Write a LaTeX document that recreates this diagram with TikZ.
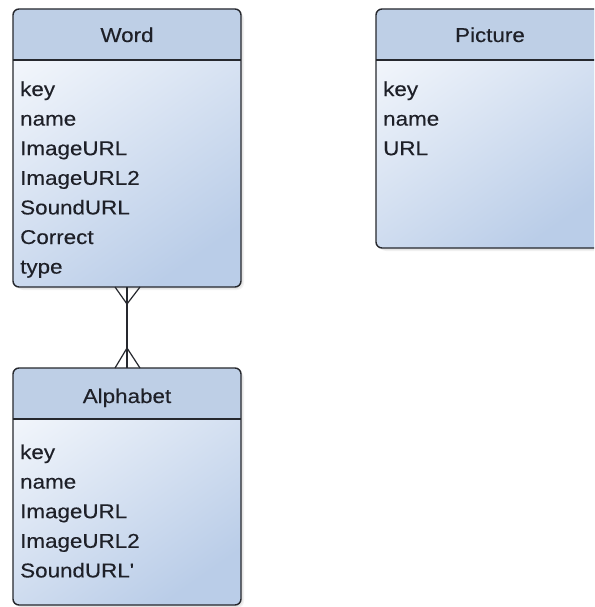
\documentclass[tikz,border=0pt]{standalone}
\usepackage{fontspec}
\setmainfont{Liberation Sans}[FakeStretch=1.12,FakeBold=0.25]
\usetikzlibrary{calc}
\definecolor{headfill}{RGB}{190,207,230}
\definecolor{bodylight}{RGB}{241,245,251}
\definecolor{bodydark}{RGB}{186,205,232}
\definecolor{edge}{RGB}{38,40,46}
\definecolor{txt}{RGB}{30,32,40}
\tikzset{
  entity/.style={rectangle, inner sep=0pt, outer sep=0pt, rounded corners=6pt,
    top color=bodylight, bottom color=bodydark, shading angle=35},
  border/.style={draw=edge, line width=1.4pt, rounded corners=6pt},
  attr/.style={anchor=base west, inner sep=0pt, text=txt, font=\fontsize{20}{24}\selectfont},
  ttl/.style={anchor=base, inner sep=0pt, text=txt, font=\fontsize{20}{24}\selectfont},
  rel/.style={draw=edge, line width=1.2pt},
  shadowbox/.style={fill=black, opacity=0.05, rounded corners=7pt}
}
\newcommand{\entityhead}[1]{%
  \fill[headfill] ([yshift=-51pt]#1.north west) {[rounded corners=6pt] -- (#1.north west) -- (#1.north east)} -- ([yshift=-51pt]#1.north east) -- cycle;
  \draw[draw=edge, line width=1.4pt] ([yshift=-51pt]#1.north west) -- ([yshift=-51pt]#1.north east);
  \draw[border] (#1.north west) rectangle (#1.south east);
}
\begin{document}
\begin{tikzpicture}[x=1pt,y=-1pt]
\useasboundingbox (0,0) rectangle (594,607);
\clip (0,0) rectangle (594,607);
\fill[white] (0,0) rectangle (594,607);

% Word
\fill[shadowbox] (16,12) rectangle (244,290);
\fill[shadowbox] (15,11) rectangle (243,289);
\node[entity, minimum width=228pt, minimum height=278pt] (word) at (127,148) {};
\entityhead{word}
\node[ttl] (wordt) at (127,42) {Word};
\foreach \t [count=\i] in {key,name,ImageURL,ImageURL2,SoundURL,Correct,type}
  \node[attr] (word-\i) at (20,{96+29.6*(\i-1)}) {\t};

% Picture
\fill[shadowbox] (379,12) rectangle (607,251);
\fill[shadowbox] (378,11) rectangle (606,250);
\node[entity, minimum width=228pt, minimum height=239pt] (pic) at (490,128.5) {};
\entityhead{pic}
\node[ttl] (pict) at (490,42) {Picture};
\foreach \t [count=\i] in {key,name,URL}
  \node[attr] (pic-\i) at (383,{96+29.6*(\i-1)}) {\t};

% Alphabet
\fill[shadowbox] (16,371) rectangle (244,608);
\fill[shadowbox] (15,370) rectangle (243,607);
\node[entity, minimum width=228pt, minimum height=237pt] (alpha) at (127,486.5) {};
\entityhead{alpha}
\node[ttl] (alphat) at (127,403) {Alphabet};
\foreach \t [count=\i] in {key,name,ImageURL,ImageURL2,SoundURL\textquotesingle}
  \node[attr] (alpha-\i) at (20,{459+29.6*(\i-1)}) {\t};

% relationship (many to many)
\draw[rel] (word.south) -- (alpha.north);
\draw[rel] ([xshift=-12pt]word.south) -- ([yshift=-17pt]word.south) -- ([xshift=13pt]word.south);
\draw[rel] ([xshift=-12pt]alpha.north) -- ([yshift=20pt]alpha.north) -- ([xshift=13pt]alpha.north);
\end{tikzpicture}
\end{document}
